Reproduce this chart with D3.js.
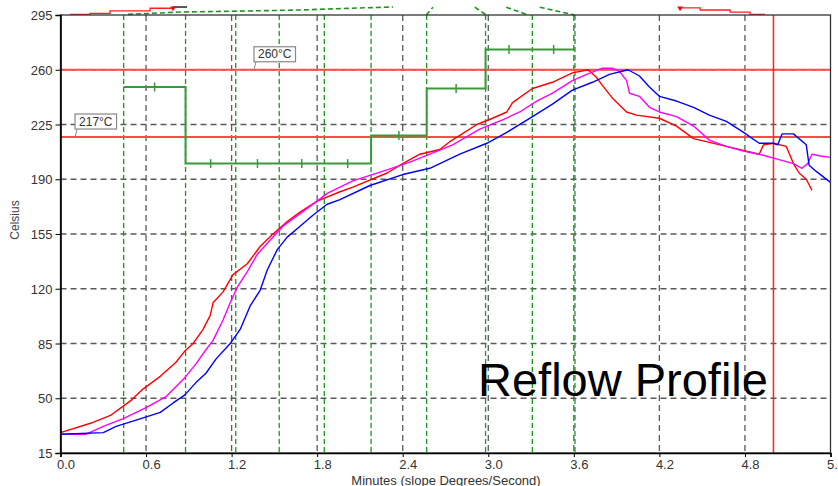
<!DOCTYPE html>
<html>
<head>
<meta charset="utf-8">
<script src="https://cdn.jsdelivr.net/npm/d3@7"></script>
<style>
  body { margin: 0; background: #fff; }
  svg { display: block; font-family: "Liberation Sans", Arial, sans-serif; }
</style>
</head>
<body>
<svg id="chart" width="838" height="486"></svg>
<script>
// axis ticks
var xTicks = [0, 0.6, 1.2, 1.8, 2.4, 3.0, 3.6, 4.2, 4.8, 5.4];
var yTicks = [15, 50, 85, 120, 155, 190, 225, 260, 295];

// zone boundaries (minutes) and setpoints of each zone
var zoneEdges = [0.443, 0.877, 1.229, 1.534, 1.850, 2.178, 2.568, 2.981, 3.309, 3.608];
var zoneLevels = [249, 200, 200, 200, 200, 218, 248, 273, 273];

// limit lines
var limitTemps = [217, 260];
var limitLabels = ["217°C", "260°C"];
var limitLabelAt = [0.102, 1.357];
var cutoffTime = 5.0;

// measured profiles [minutes, celsius]
var redProfile = [[0,28],[0.21,34],[0.35,39],[0.44,45],[0.50,49],[0.58,56],[0.70,64],[0.81,73],[0.87,80],[0.93,85],
  [1.00,94],[1.05,103],[1.07,111],[1.14,118],[1.21,129],[1.31,136],[1.40,147],[1.49,155],[1.59,163],[1.68,169],
  [1.80,176],[1.96,182],[2.05,185],[2.29,194],[2.40,200],[2.52,206],[2.66,209],[2.73,214],[2.80,218],[2.92,225],
  [3.03,229],[3.13,233],[3.17,239],[3.31,248],[3.45,252],[3.59,258],[3.70,260],[3.76,255],[3.80,250],[3.87,242],
  [3.97,233],[4.04,231],[4.20,229],[4.32,224],[4.44,216],[4.67,211],[4.90,206],[4.93,212],[5.00,213],[5.09,211],
  [5.14,200],[5.18,194],[5.23,190],[5.27,183]];
var magentaProfile = [[0,27],[0.18,27],[0.30,32],[0.44,37],[0.60,44],[0.74,51],[0.87,63],[0.95,72],[1.02,81],[1.07,87],
  [1.14,100],[1.19,111],[1.24,121],[1.31,131],[1.38,142],[1.47,151],[1.56,160],[1.68,168],[1.80,176],[1.87,181],
  [2.05,189],[2.29,196],[2.45,201],[2.59,206],[2.75,212],[2.94,222],[3.10,228],[3.22,233],[3.34,240],[3.45,245],
  [3.59,253],[3.69,257],[3.80,261],[3.87,261],[3.92,259],[3.97,253],[3.99,245],[4.06,243],[4.13,236],[4.20,233],
  [4.32,230],[4.44,224],[4.55,215],[4.67,211],[4.79,208],[4.90,206],[5.02,203],[5.14,200],[5.20,197],[5.24,200],
  [5.27,206],[5.32,205],[5.40,204]];
var blueProfile = [[0,27],[0.30,28],[0.39,32],[0.53,36],[0.70,41],[0.79,47],[0.87,52],[0.95,60],[1.02,66],[1.09,75],
  [1.19,85],[1.26,94],[1.33,109],[1.40,119],[1.45,132],[1.52,145],[1.59,153],[1.68,160],[1.77,167],[1.87,174],
  [1.96,177],[2.17,186],[2.40,193],[2.59,197],[2.80,206],[2.99,213],[3.13,220],[3.31,230],[3.45,238],[3.59,247],
  [3.73,252],[3.85,257],[3.98,260],[4.06,256],[4.13,249],[4.20,243],[4.32,240],[4.44,236],[4.55,231],[4.67,227],
  [4.79,220],[4.90,213],[5.00,213],[5.03,212],[5.06,219],[5.14,219],[5.23,212],[5.25,199],[5.30,195],[5.40,188]];

// traces that spill over the top of the plot
var overRedLeft = [[0.067,295.4],[0.207,296],[0.347,297.6],[0.628,299.3],[0.789,300.1]];
var overBlack = [[0.789,300.1],[0.888,300.1]];
var overRedRight = [[4.345,300.1],[4.345,299.5],[4.486,298.2],[4.696,296.9],[4.836,295.4],[4.94,295.4]];
var overGreen = [[0.473,295.4],[0.838,296.9],[1.329,297.6],[1.68,298.2],[2.1,299.5],[2.332,300.1]];
var overGreenBits = [[[2.565,295],[2.612,300]], [[2.905,300],[2.986,295]], [[3.126,300],[3.279,295]], [[3.361,300],[3.606,295]]];

var svg = d3.select('#chart');
var x = d3.scaleLinear().domain([0, 5.4]).range([60.5, 830.5]);
var y = d3.scaleLinear().domain([15, 295]).range([453, 15]);
var line = d3.line().x(function(d) { return x(d[0]); }).y(function(d) { return y(d[1]); });

// gray dashed grid
svg.append('g').selectAll('line').data(xTicks.slice(1, -1)).enter().append('line')
  .attr('x1', function(d) { return x(d); }).attr('x2', function(d) { return x(d); })
  .attr('y1', y(295)).attr('y2', y(15))
  .attr('stroke', '#5a5a5a').attr('stroke-width', 1.3).attr('stroke-dasharray', '6,4');
svg.append('g').selectAll('line').data(yTicks.slice(1, -1)).enter().append('line')
  .attr('x1', x(0)).attr('x2', x(5.4))
  .attr('y1', function(d) { return y(d); }).attr('y2', function(d) { return y(d); })
  .attr('stroke', '#5a5a5a').attr('stroke-width', 1.3).attr('stroke-dasharray', '6,4');

// green zone boundaries
svg.append('g').selectAll('line').data(zoneEdges).enter().append('line')
  .attr('x1', function(d) { return x(d); }).attr('x2', function(d) { return x(d); })
  .attr('y1', y(295)).attr('y2', y(15))
  .attr('stroke', '#1e961e').attr('stroke-width', 1.3).attr('stroke-dasharray', '5,3');

// spill-over at the top
svg.append('path').datum(overGreen).attr('d', line).attr('fill', 'none')
  .attr('stroke', '#1e961e').attr('stroke-width', 1.6).attr('stroke-dasharray', '5,3');
svg.append('g').selectAll('path').data(overGreenBits).enter().append('path')
  .attr('d', line).attr('fill', 'none')
  .attr('stroke', '#1e961e').attr('stroke-width', 1.6).attr('stroke-dasharray', '5,3');
svg.append('path').datum(overRedLeft).attr('d', line.curve(d3.curveStepAfter)).attr('fill', 'none')
  .attr('stroke', '#ff2020').attr('stroke-width', 1.3);
svg.append('path').datum(overRedRight).attr('d', line).attr('fill', 'none')
  .attr('stroke', '#ff2020').attr('stroke-width', 1.3);
line.curve(d3.curveLinear);
svg.append('path').datum(overBlack).attr('d', line).attr('fill', 'none')
  .attr('stroke', '#000').attr('stroke-width', 1.3);
svg.append('g').selectAll('path').data([overRedLeft[overRedLeft.length - 1], overRedRight[0]]).enter()
  .append('path')
  .attr('d', d3.symbol().type(d3.symbolTriangle).size(14))
  .attr('transform', function(d) { return 'translate(' + x(d[0]) + ',' + (y(d[1]) + 1) + ') rotate(180)'; })
  .attr('fill', '#ff0000');

// limit lines
svg.append('g').selectAll('line').data(limitTemps).enter().append('line')
  .attr('x1', x(0)).attr('x2', x(5.4))
  .attr('y1', function(d) { return y(d); }).attr('y2', function(d) { return y(d); })
  .attr('stroke', '#ff4a4a').attr('stroke-width', 2);
svg.append('line')
  .attr('x1', x(cutoffTime)).attr('x2', x(cutoffTime)).attr('y1', y(295)).attr('y2', y(15))
  .attr('stroke', '#ff2020').attr('stroke-width', 1.5);

// setpoint steps
var steps = [];
zoneLevels.forEach(function(v, i) {
  steps.push([zoneEdges[i], v]);
  steps.push([zoneEdges[i + 1], v]);
});
svg.append('path').datum(steps).attr('d', line).attr('fill', 'none')
  .attr('stroke', '#3a9a3a').attr('stroke-width', 2);
svg.append('g').selectAll('line').data(zoneLevels).enter().append('line')
  .attr('x1', function(d, i) { return x((zoneEdges[i] + zoneEdges[i + 1]) / 2); })
  .attr('x2', function(d, i) { return x((zoneEdges[i] + zoneEdges[i + 1]) / 2); })
  .attr('y1', function(d) { return y(d) - 4.5; }).attr('y2', function(d) { return y(d) + 4.5; })
  .attr('stroke', '#3a9a3a').attr('stroke-width', 1.5);

// profiles
[[redProfile, '#ff0000'], [magentaProfile, '#ff00ff'], [blueProfile, '#0000ff']].forEach(function(s) {
  svg.append('path').datum(s[0]).attr('d', line).attr('fill', 'none')
    .attr('stroke', s[1]).attr('stroke-width', 1.4).attr('stroke-linejoin', 'round');
});

// limit labels
limitTemps.forEach(function(t, i) {
  var bx = x(limitLabelAt[i]), by = y(t);
  var g = svg.append('g');
  g.append('line').attr('x1', bx + 2).attr('y1', by - 8).attr('x2', bx).attr('y2', by)
    .attr('stroke', '#888').attr('stroke-width', 1);
  var txt = g.append('text').attr('x', bx + 4).attr('y', by - 11.5)
    .attr('font-size', 12).attr('fill', '#333').text(limitLabels[i]);
  var w = txt.node().getComputedTextLength();
  g.insert('rect', 'text').attr('x', bx).attr('y', by - 23).attr('width', w + 8).attr('height', 15)
    .attr('fill', '#fff').attr('stroke', '#888').attr('stroke-width', 1.2);
});

// frame and axes
svg.append('rect').attr('x', x(0)).attr('y', y(295)).attr('width', x(5.4) - x(0)).attr('height', y(15) - y(295))
  .attr('fill', 'none').attr('stroke', '#333').attr('stroke-width', 1.3);
var yAxis = svg.append('g').attr('transform', 'translate(' + x(0) + ',0)')
  .call(d3.axisLeft(y).tickValues(yTicks).tickSize(5).tickPadding(3));
var xAxis = svg.append('g').attr('transform', 'translate(0,' + y(15) + ')')
  .call(d3.axisBottom(x).tickValues(xTicks).tickSize(4).tickFormat(d3.format('.1f')));
[yAxis, xAxis].forEach(function(a) {
  a.select('.domain').attr('stroke', '#000').attr('stroke-width', 1.6);
  a.selectAll('.tick line').attr('stroke', '#000');
  a.selectAll('text').attr('font-size', 13).attr('fill', '#333')
    .attr('font-family', '"Liberation Sans", Arial, sans-serif');
});
yAxis.selectAll('text').attr('dy', '0.36em');
xAxis.selectAll('text').attr('text-anchor', 'start').attr('dx', -4).attr('dy', 0).attr('y', 16);

svg.append('text').attr('transform', 'translate(19,220) rotate(-90)')
  .attr('text-anchor', 'middle').attr('font-size', 12).attr('fill', '#444').text('Celsius');
svg.append('text').attr('x', 446).attr('y', 485)
  .attr('text-anchor', 'middle').attr('font-size', 13).attr('fill', '#333').text('Minutes (slope Degrees/Second)');

svg.append('text').attr('x', 478).attr('y', 396)
  .attr('font-size', 47).attr('fill', '#000').text('Reflow Profile');
</script>
</body>
</html>
